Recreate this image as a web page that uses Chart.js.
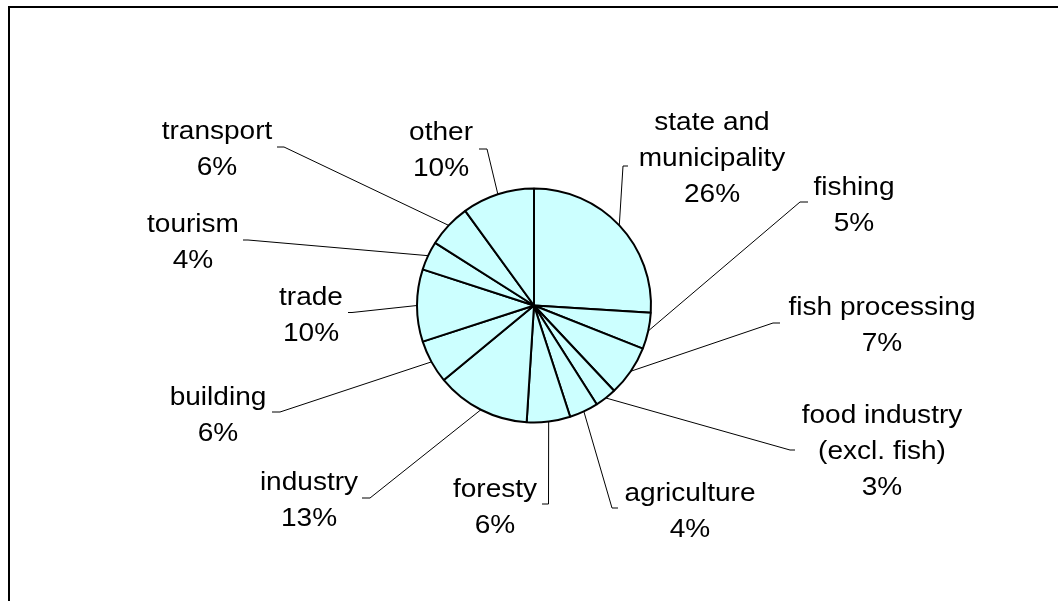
<!DOCTYPE html>
<html>
<head>
<meta charset="utf-8">
<script src="https://cdn.jsdelivr.net/npm/chart.js@4.4.1/dist/chart.umd.min.js"></script>
<style>
  html, body { margin: 0; padding: 0; background: #ffffff; }
  #wrap { width: 1058px; height: 601px; position: relative; }
</style>
</head>
<body>
<div id="wrap"><canvas id="c" width="1058" height="601"></canvas></div>
<script>
// ---- data ----
const categories = ['state and municipality', 'fishing', 'fish processing', 'food industry (excl. fish)',
  'agriculture', 'foresty', 'industry', 'building', 'trade', 'tourism', 'transport', 'other'];
const shares = [26, 5, 7, 3, 4, 6, 13, 6, 10, 4, 6, 10];
const nameLines = [['state and', 'municipality'], ['fishing'], ['fish processing'],
  ['food industry', '(excl. fish)'], ['agriculture'], ['foresty'], ['industry'], ['building'],
  ['trade'], ['tourism'], ['transport'], ['other']];

// ---- label layout (text centre x, first baseline, leader elbow and end) ----
const labelLayout = [
  { cx: 712, y0: 130, elbow: [623, 166], end: [628, 166] },
  { cx: 854, y0: 195, elbow: [800, 202], end: [808, 202] },
  { cx: 882, y0: 315, elbow: [773, 323], end: [780, 323] },
  { cx: 882, y0: 423, elbow: [790, 450], end: [795, 450] },
  { cx: 690, y0: 501, elbow: [612, 508], end: [618, 508] },
  { cx: 495, y0: 497, elbow: [548.5, 504], end: [542, 504] },
  { cx: 309, y0: 490, elbow: [370, 498], end: [362, 498] },
  { cx: 218, y0: 405, elbow: [280, 412], end: [272, 412] },
  { cx: 311, y0: 305, elbow: [352, 312.5], end: [348, 312.5] },
  { cx: 193, y0: 232, elbow: [248, 240], end: [243, 240] },
  { cx: 217, y0: 139, elbow: [284, 147], end: [277, 147] },
  { cx: 441, y0: 140, elbow: [487, 149], end: [479, 149] }
];
const LINE_H = 36;
const FONT = '25.5px "Liberation Sans", Arial, sans-serif';
const XSCALE = 1.1;

const framePlugin = {
  id: 'frame',
  beforeDraw(chart) {
    const ctx = chart.ctx;
    ctx.save();
    ctx.fillStyle = '#ffffff';
    ctx.fillRect(0, 0, chart.width, chart.height);
    ctx.fillStyle = '#000000';
    ctx.fillRect(8, 6, chart.width - 8, 2);
    ctx.fillRect(8, 6, 2, chart.height - 6);
    ctx.restore();
  }
};

const labelPlugin = {
  id: 'outLabels',
  afterDatasetsDraw(chart) {
    const ctx = chart.ctx;
    const meta = chart.getDatasetMeta(0);
    ctx.save();
    meta.data.forEach((arc, i) => {
      const p = arc.getProps(['x', 'y', 'startAngle', 'endAngle', 'outerRadius'], true);
      const mid = (p.startAngle + p.endAngle) / 2;
      const sx = p.x + Math.cos(mid) * p.outerRadius;
      const sy = p.y + Math.sin(mid) * p.outerRadius;
      const L = labelLayout[i];
      ctx.strokeStyle = '#000000';
      ctx.lineWidth = 1;
      ctx.beginPath();
      ctx.moveTo(sx, sy);
      ctx.lineTo(L.elbow[0], L.elbow[1]);
      ctx.lineTo(L.end[0], L.end[1]);
      ctx.stroke();

      const lines = nameLines[i].concat([shares[i] + '%']);
      ctx.fillStyle = '#000000';
      ctx.font = FONT;
      ctx.textAlign = 'center';
      ctx.textBaseline = 'alphabetic';
      lines.forEach((t, k) => {
        ctx.save();
        ctx.translate(L.cx, L.y0 + k * LINE_H);
        ctx.scale(XSCALE, 1);
        ctx.fillText(t, 0, 0);
        ctx.restore();
      });
    });
    ctx.restore();
  }
};

new Chart(document.getElementById('c'), {
  type: 'pie',
  data: {
    labels: categories,
    datasets: [{
      data: shares,
      backgroundColor: '#CCFFFF',
      borderColor: '#000000',
      borderWidth: 2,
      hoverOffset: 0
    }]
  },
  options: {
    responsive: false,
    animation: false,
    devicePixelRatio: 1,
    layout: { padding: { top: 187, bottom: 177, left: 416, right: 406 } },
    plugins: {
      legend: { display: false },
      tooltip: { enabled: false }
    }
  },
  plugins: [framePlugin, labelPlugin]
});
</script>
</body>
</html>
